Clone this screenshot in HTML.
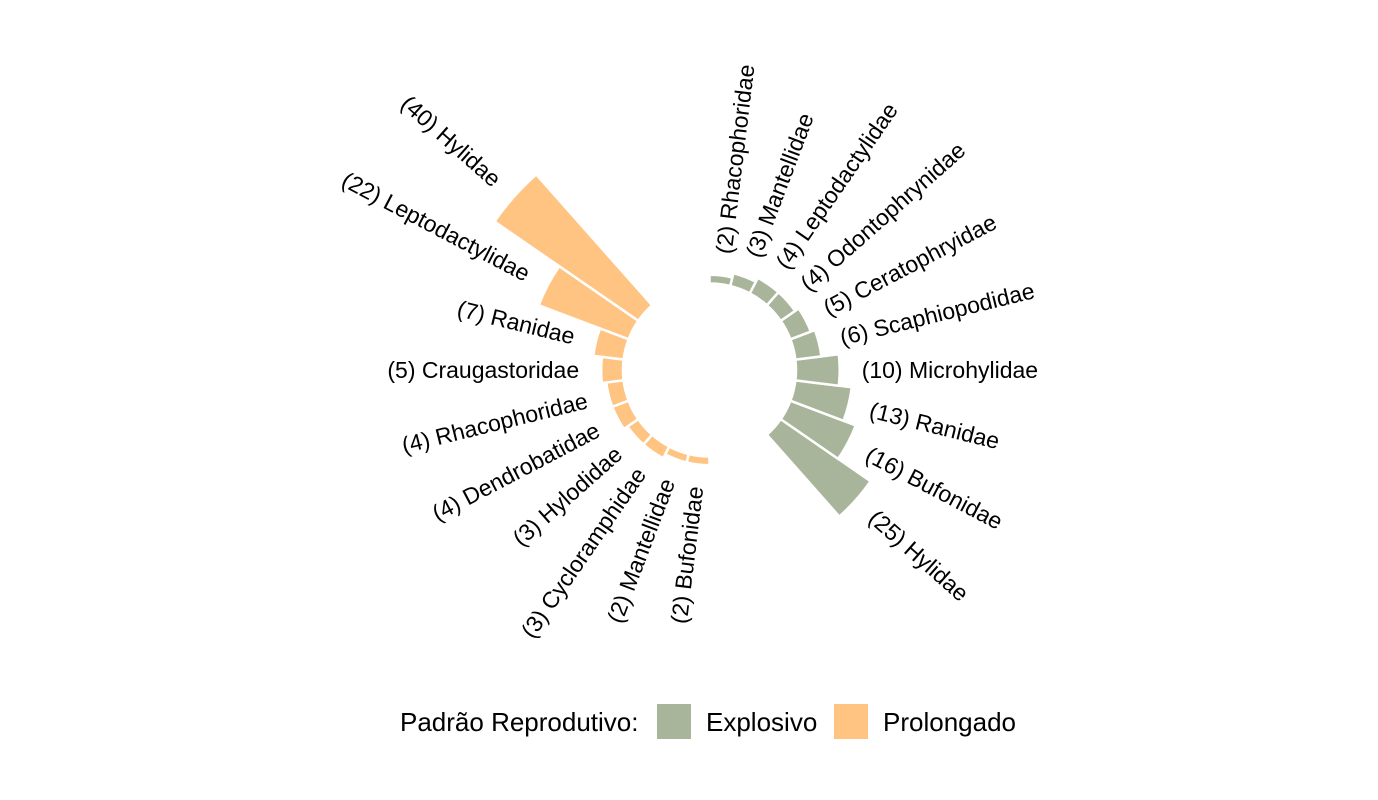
<!DOCTYPE html>
<html><head><meta charset="utf-8"><style>
body{margin:0;background:#fff;}
svg{display:block;font-family:"Liberation Sans",Arial,sans-serif;}
</style></head><body>
<svg id="chart" width="1378" height="800" viewBox="0 0 1378 800">
<g id="bars"></g>
<g id="labels"></g>
<g font-size="26" fill="#000">
<text x="400" y="731">Padrão Reprodutivo:</text>
<rect x="657" y="704" width="34" height="35" fill="#a8b59a"/>
<text x="706" y="731">Explosivo</text>
<rect x="834" y="704" width="34" height="35" fill="#ffc482"/>
<text x="883" y="731">Prolongado</text>
</g>
</svg>
<script>
const prolNames=["Hylidae","Leptodactylidae","Ranidae","Craugastoridae","Rhacophoridae","Dendrobatidae","Hylodidae","Cycloramphidae","Mantellidae","Bufonidae"];
const prolValues=[40,22,7,5,4,4,3,3,2,2];
const explNames=["Hylidae","Bufonidae","Ranidae","Microhylidae","Scaphiopodidae","Ceratophryidae","Odontophrynidae","Leptodactylidae","Mantellidae","Rhacophoridae"];
const explValues=[25,16,13,10,6,5,4,4,3,2];

const cx=709.5, cy=370, r0=86.5, k=4.37, nSlots=26, step=360/nSlots;
function rad(v){return r0+v*k;}
const NS="http://www.w3.org/2000/svg";
const gb=document.getElementById('bars'), gl=document.getElementById('labels');
function pt(r,a){const t=a*Math.PI/180;return [cx+r*Math.cos(t), cy-r*Math.sin(t)];}
function draw(names,values,startAngle,color,key){
  names.forEach((n,i)=>{
    const a=startAngle+i*step;
    const a1=a-step/2,a2=a+step/2,R=rad(values[i]);
    const p1=pt(r0,a1),p2=pt(R,a1),p3=pt(R,a2),p4=pt(r0,a2);
    const path=document.createElementNS(NS,'path');
    path.setAttribute('d',`M${p1}L${p2}A${R} ${R} 0 0 0 ${p3}L${p4}A${r0} ${r0} 0 0 1 ${p1}Z`);
    path.setAttribute('fill',color);path.setAttribute('stroke','#fff');path.setAttribute('stroke-width','2.5');
    
    
    gb.appendChild(path);
    const lp=pt(R+22,a);
    const t=document.createElementNS(NS,'text');
    let norm=((a%360)+360)%360;
    const left=norm>90&&norm<270;
    const rot=left?180-a:-a;
    t.setAttribute('x',lp[0]);t.setAttribute('y',lp[1]);
    t.setAttribute('font-size','23');t.setAttribute('dominant-baseline','central');
    t.setAttribute('text-anchor',left?'end':'start');
    t.setAttribute('transform',`rotate(${rot} ${lp[0]} ${lp[1]})`);
    t.textContent='('+values[i]+') '+n;
    
    
    gl.appendChild(t);
  });
}
draw(prolNames,prolValues,180-3*step,'#ffc482','prolongado');
draw(explNames,explValues,-3*step,'#a8b59a','explosivo');
</script>
</body></html>
